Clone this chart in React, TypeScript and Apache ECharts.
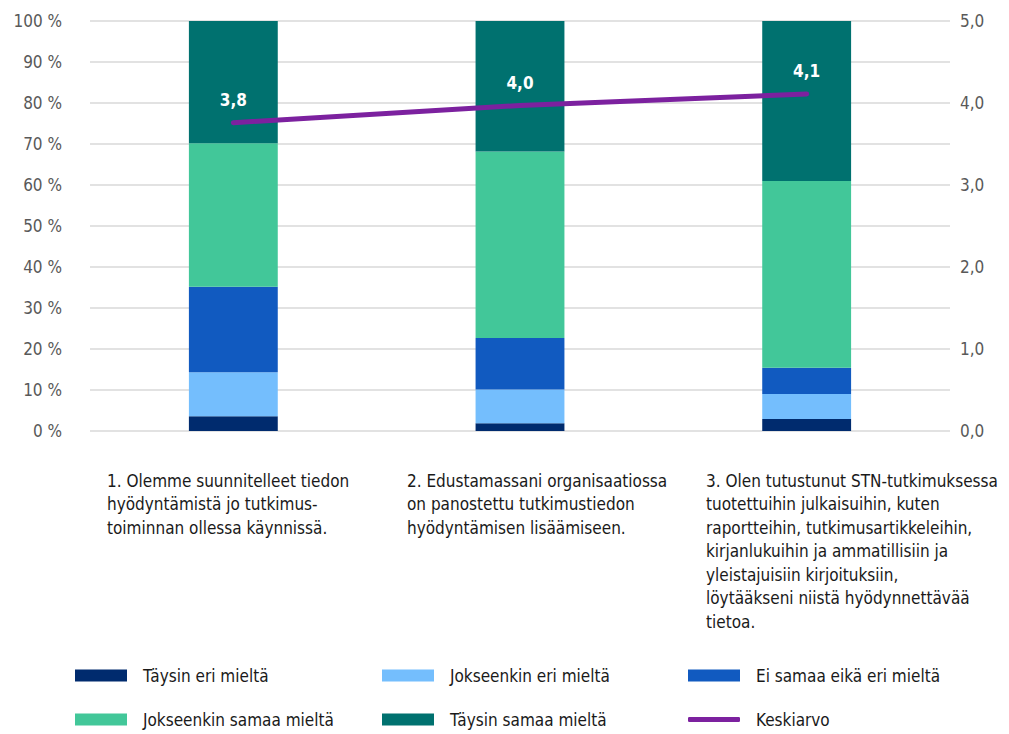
import React, { useEffect, useRef } from "react";
import * as echarts from "echarts";

const categories = [
  "1. Olemme suunnitelleet tiedon\nhyödyntämistä jo tutkimus-\ntoiminnan ollessa käynnissä.",
  "2. Edustamassani organisaatiossa\non panostettu tutkimustiedon\nhyödyntämisen lisäämiseen.",
  "3. Olen tutustunut STN-tutkimuksessa\ntuotettuihin julkaisuihin, kuten\nraportteihin, tutkimusartikkeleihin,\nkirjanlukuihin ja ammatillisiin ja\nyleistajuisiin kirjoituksiin,\nlöytääkseni niistä hyödynnettävää\ntietoa.",
];

const seriesNames = [
  "Täysin eri mieltä",
  "Jokseenkin eri mieltä",
  "Ei samaa eikä eri mieltä",
  "Jokseenkin samaa mieltä",
  "Täysin samaa mieltä",
  "Keskiarvo",
];

const taysinEri = [3.6, 1.9, 2.9];
const jokseenkinEri = [10.7, 8.2, 6.1];
const eiSamaaEikaEri = [20.9, 12.6, 6.4];
const jokseenkinSamaa = [35.0, 45.5, 45.6];
const taysinSamaa = [29.8, 31.8, 39.0];
const keskiarvo = [3.76, 3.97, 4.11];

const leftTicks = [0, 100, 10];
const rightTicks = [0, 5, 1];

const colors = ["#002B6E", "#74BEFD", "#115AC0", "#42C799", "#00716F", "#7C219F"];

const FONT = "'Liberation Sans Narrow', 'DejaVu Sans Condensed', 'Roboto', sans-serif";

export default function App() {
  const ref = useRef<HTMLDivElement>(null);
  useEffect(() => {
    if (!ref.current) return;
    const chart = echarts.init(ref.current, null, { renderer: "svg" });
    const barData = [taysinEri, jokseenkinEri, eiSamaaEikaEri, jokseenkinSamaa, taysinSamaa];
    const legendPos = [
      [75, 667],
      [382, 667],
      [688, 667],
      [75, 711],
      [382, 711],
      [688, 711],
    ];
    const labelX = [107, 407, 706];
    const option: any = {
      animation: false,
      textStyle: { fontFamily: FONT },
      grid: { left: 90, right: 59, top: 21, bottom: 303, containLabel: false },
      legend: seriesNames.map((n, i) => ({
        data: [n],
        left: legendPos[i][0],
        top: legendPos[i][1],
        padding: 0,
        itemWidth: 52,
        itemHeight: i === 5 ? 5 : 12,
        icon: i === 5 ? "roundRect" : "rect",
        itemGap: 0,
        selectedMode: false,
        itemStyle: { color: colors[i], opacity: 1 },
        textStyle: { fontFamily: FONT, fontSize: 17, color: "#1a1a1a", padding: [0, 0, 0, 11] },
      })),
      xAxis: {
        type: "category",
        data: categories,
        axisLine: { show: false },
        axisTick: { show: false },
        axisLabel: { show: false },
      },
      yAxis: [
        {
          type: "value",
          min: leftTicks[0],
          max: leftTicks[1],
          interval: leftTicks[2],
          axisLabel: {
            formatter: (v: number) => `${v} %`,
            color: "#595959",
            fontSize: 17,
            fontFamily: FONT,
            margin: 28,
          },
          splitLine: { lineStyle: { color: "#d9d9d9", width: 1.5 } },
          axisLine: { show: false },
          axisTick: { show: false },
        },
        {
          type: "value",
          min: rightTicks[0],
          max: rightTicks[1],
          interval: rightTicks[2],
          position: "right",
          axisLabel: {
            formatter: (v: number) => v.toFixed(1).replace(".", ","),
            color: "#595959",
            fontSize: 17,
            fontFamily: FONT,
            margin: 10,
          },
          splitLine: { show: false },
          axisLine: { show: false },
          axisTick: { show: false },
        },
      ],
      series: [
        ...barData.map((d, i) => ({
          name: seriesNames[i],
          type: "bar",
          stack: "total",
          data: d,
          barWidth: "31%",
          itemStyle: { color: colors[i] },
        })),
        {
          name: seriesNames[5],
          type: "line",
          yAxisIndex: 1,
          data: keskiarvo,
          symbol: "circle",
          symbolSize: 0.5,
          showSymbol: true,
          lineStyle: { color: colors[5], width: 5, cap: "round" },
          itemStyle: { color: colors[5] },
          label: {
            show: true,
            position: "top",
            distance: 14,
            color: "#ffffff",
            fontWeight: "bold",
            fontSize: 17,
            fontFamily: FONT,
            formatter: (p: any) => Number(p.value).toFixed(1).replace(".", ","),
          },
          z: 10,
        },
      ],
      graphic: categories.map((c, i) => ({
        type: "text",
        left: labelX[i],
        top: 469,
        style: {
          text: c,
          fontFamily: FONT,
          fontSize: 17,
          lineHeight: 23.5,
          fill: "#1a1a1a",
          align: "left",
        },
      })),
    };
    chart.setOption(option);
    return () => chart.dispose();
  }, []);
  return (
    <div
      ref={ref}
      style={{ position: "fixed", left: 0, top: 0, width: 1009, height: 734, background: "#fff" }}
    />
  );
}
